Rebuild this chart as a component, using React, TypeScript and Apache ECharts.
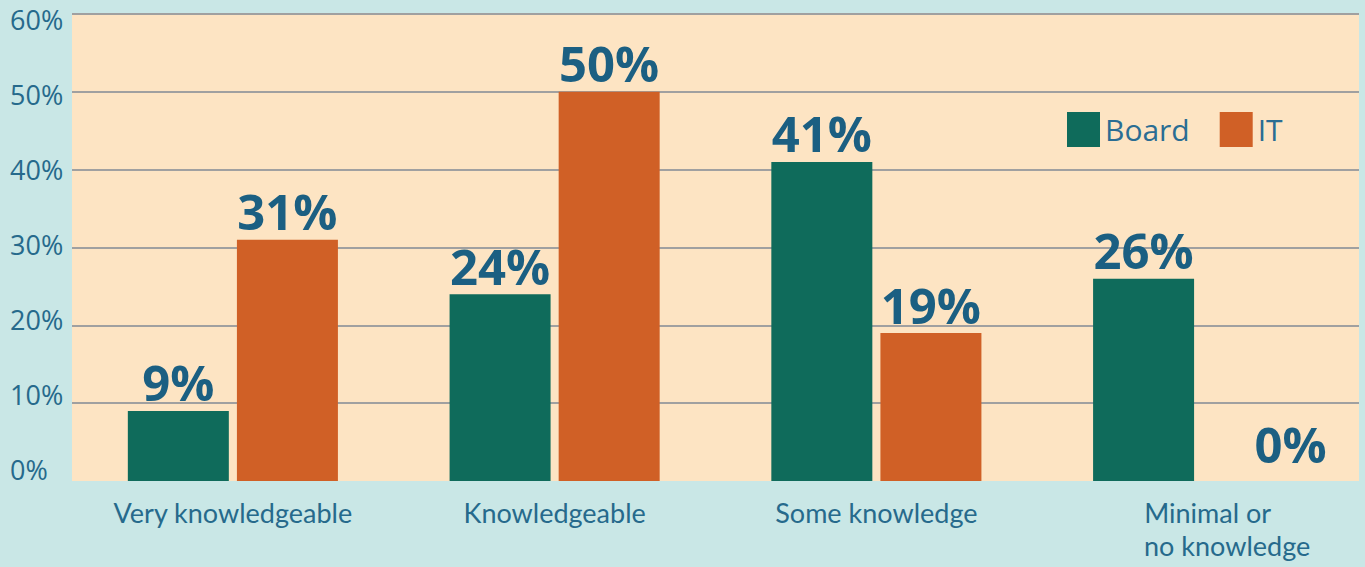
import React, { useEffect, useRef } from "react";
import * as echarts from "echarts";

const categories = ["Very knowledgeable", "Knowledgeable", "Some knowledge", "Minimal or\nno knowledge"];
const seriesNames = ["Board", "IT"];
const boardValues = [9, 24, 41, 26];
const itValues = [31, 50, 19, 0];
const yTicks = [0, 10, 20, 30, 40, 50, 60];

const FONT = "'Open Sans', sans-serif";
const X_FONT = "Lato, 'Open Sans', sans-serif";
const AXIS_TEXT = "#266a8c";
const LEGEND_TEXT = "#2a6d93";
const LABEL_TEXT = "#1b5f82";
const X_FONT_SIZE = 27;
const X_LINE_HEIGHT = 33;

function measure(text: string, size: number): number {
  const c = document.createElement("canvas").getContext("2d");
  if (!c) return text.length * size * 0.5;
  c.font = `${size}px Lato`;
  return c.measureText(text).width;
}

export default function App() {
  const ref = useRef<HTMLDivElement>(null);
  useEffect(() => {
    if (!ref.current) return;
    document.body.style.margin = "0";
    const chart = echarts.init(ref.current, null, { renderer: "svg" });
    const dataLabel = {
      show: true,
      position: "top",
      distance: 4,
      formatter: "{c}%",
      color: LABEL_TEXT,
      fontFamily: FONT,
      fontWeight: "bold",
      fontSize: 49,
    };
    const rich: Record<string, any> = {};
    categories.forEach((c) => {
      if (c.indexOf("\n") < 0) return;
      const lines = c.split("\n");
      const widths = lines.map((l) => measure(l, X_FONT_SIZE));
      const maxW = Math.max(...widths);
      const lead = Math.max(0, Math.round(maxW - 108));
      lines.forEach((_, i) => {
        rich["m" + i] = {
          fontSize: X_FONT_SIZE,
          lineHeight: X_LINE_HEIGHT,
          color: AXIS_TEXT,
          fontFamily: X_FONT,
          padding: [0, Math.max(0, Math.round(maxW - widths[i])), 0, lead],
        };
      });
    });
    const xFormatter = (v: string) => {
      if (v.indexOf("\n") < 0) return v;
      return v
        .split("\n")
        .map((l, i) => `{m${i}|${l}}`)
        .join("\n");
    };
    chart.setOption({
      animation: false,
      backgroundColor: "#c9e7e6",
      textStyle: { fontFamily: FONT },
      grid: {
        left: 72,
        right: 6,
        top: 14,
        bottom: 86,
        show: true,
        backgroundColor: "#fde4c3",
        borderWidth: 0,
      },
      legend: {
        data: seriesNames,
        left: 1062,
        top: 107,
        itemWidth: 33,
        itemHeight: 35,
        itemGap: 30,
        icon: "rect",
        textStyle: { fontSize: 30, color: LEGEND_TEXT, fontFamily: FONT },
      },
      xAxis: {
        type: "category",
        data: categories,
        axisLine: { show: false },
        axisTick: { show: false },
        axisLabel: {
          margin: 15,
          fontSize: X_FONT_SIZE,
          lineHeight: X_LINE_HEIGHT,
          color: AXIS_TEXT,
          fontFamily: X_FONT,
          interval: 0,
          formatter: xFormatter,
          rich,
        },
      },
      yAxis: [
        {
          type: "value",
          min: 0,
          max: 60,
          interval: 10,
          position: "left",
          axisLabel: { show: false },
          axisLine: { show: false },
          axisTick: { show: false },
          splitLine: {
            show: true,
            lineStyle: {
              width: 2,
              color: ["rgba(0,0,0,0)", "#a0a0a0", "#a0a0a0", "#a0a0a0", "#a0a0a0", "#a0a0a0", "#a0a0a0"],
            },
          },
        },
        {
          type: "value",
          min: -1.6,
          max: 60.8,
          position: "left",
          axisLine: { show: false },
          axisTick: { show: false },
          splitLine: { show: false },
          axisLabel: {
            customValues: yTicks,
            formatter: "{value}%",
            align: "left",
            margin: 62,
            fontSize: 27,
            color: AXIS_TEXT,
            fontFamily: FONT,
          },
        },
      ],
      series: [
        {
          name: seriesNames[0],
          type: "bar",
          data: boardValues,
          yAxisIndex: 0,
          itemStyle: { color: "#0f6b5b" },
          barWidth: 101,
          barGap: "8%",
          label: dataLabel,
        },
        {
          name: seriesNames[1],
          type: "bar",
          data: itValues.map((v) =>
            v === 0 ? { value: v, label: { offset: [38, -9] } } : v
          ),
          yAxisIndex: 0,
          itemStyle: { color: "#d06026" },
          barWidth: 101,
          barGap: "8%",
          label: dataLabel,
        },
      ],
    });
    return () => chart.dispose();
  }, []);
  return <div ref={ref} style={{ width: 1365, height: 567 }} />;
}
